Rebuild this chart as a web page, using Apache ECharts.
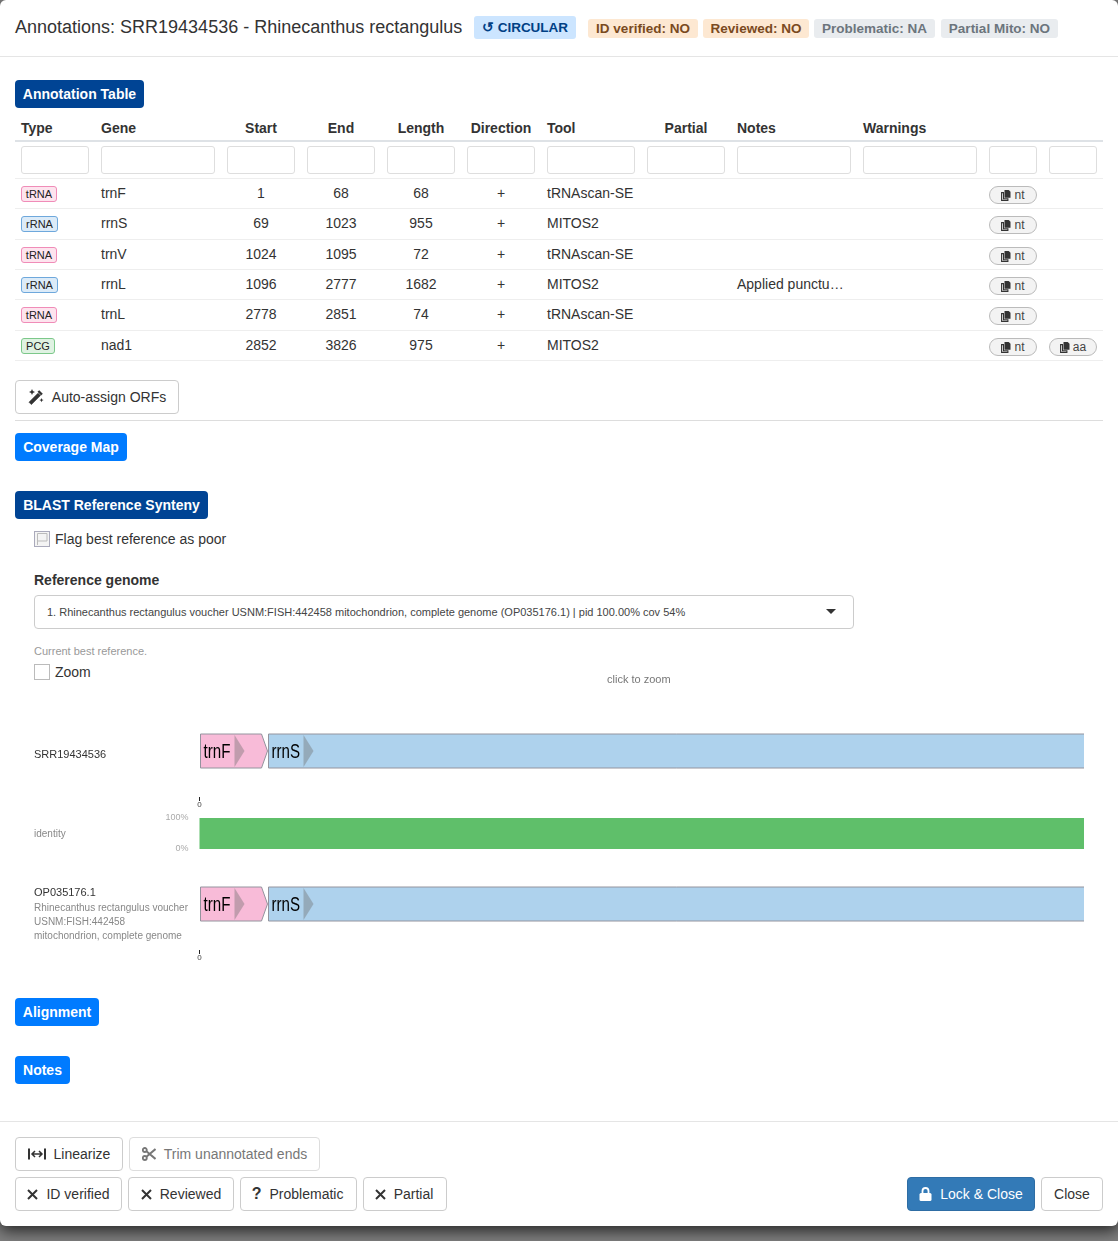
<!DOCTYPE html>
<html><head><meta charset="utf-8">
<script src="https://cdn.jsdelivr.net/npm/echarts@6/dist/echarts.min.js"></script>
<style>
html,body{margin:0;padding:0;width:1118px;height:1241px;overflow:hidden;background:#7f7f7f;font-family:"Liberation Sans",Arial,sans-serif;color:#333}
#modal{position:absolute;left:0;top:0;width:1118px;height:1226px;background:#fff;border-radius:6px;box-shadow:0 5px 15px rgba(0,0,0,.7)}
#chart{position:absolute;left:0;top:0;width:1118px;height:1241px;pointer-events:none}
.a{position:absolute;white-space:nowrap;box-sizing:border-box}
.btn{display:flex;align-items:center;justify-content:center;gap:8px;font-size:14px;color:#333;background:#fff;border:1px solid #ccc;border-radius:4px}
.sec{display:flex;align-items:center;justify-content:center;font-size:14px;font-weight:700;color:#fff;border-radius:4px}
.bd{display:flex;align-items:center;justify-content:center;font-size:13.5px;font-weight:700;border-radius:3px}
.inp{background:#fff;border:1px solid #dedede;border-radius:3px}
.pill{display:flex;align-items:center;justify-content:center;gap:3px;font-size:12px;color:#444;background:#f3f3f3;border:1px solid #bbb;border-radius:10px}
.tb{display:flex;align-items:center;justify-content:center;font-size:11px;color:#222;border-radius:3px;border:1px solid}
svg{display:block}
</style></head><body>
<div id="modal"></div><div id="chart"></div>
<script>
// ---- table data ----
const types = ['tRNA','rRNA','tRNA','rRNA','tRNA','PCG'];
const genes = ['trnF','rrnS','trnV','rrnL','trnL','nad1'];
const starts = [1,69,1024,1096,2778,2852];
const ends = [68,1023,1095,2777,2851,3826];
const lengths = [68,955,72,1682,74,975];
const directions = ['+','+','+','+','+','+'];
const tools = ['tRNAscan-SE','MITOS2','tRNAscan-SE','MITOS2','tRNAscan-SE','MITOS2'];
const notes = ['','','','Applied punctu…','',''];
const aaFlags = [false,false,false,false,false,true];
const columns = ['Type','Gene','Start','End','Length','Direction','Tool','Partial','Notes','Warnings','',''];
// ---- synteny chart data ----
const trackGenes = ['trnF','rrnS'];
const trackStarts = [1,69];
const trackEnds = [68,1023];
const trackKinds = ['tRNA','rRNA'];
const identityPositions = [0,884.5];
const identityValues = [100,100];
const rulerTicks = [0];
const windowEnd = 884.5;

const $m = document.getElementById('modal');
function el(cls,x,y,w,h,html,css){const d=document.createElement('div');d.className='a '+cls;
  d.style.cssText=`left:${x}px;top:${y}px;`+(w!=null?`width:${w}px;`:'')+(h!=null?`height:${h}px;`:'')+(css||'');
  if(html!=null)d.innerHTML=html;$m.appendChild(d);return d;}
function txt(x,cy,s,size,css){return el('',x,cy-10,null,20,s,`line-height:20px;font-size:${size}px;`+(css||''));}
function ctr(x,w,cy,s,size,css){return el('',x,cy-10,w,20,s,`line-height:20px;text-align:center;font-size:${size}px;`+(css||''));}
const ic = {
 copy:'<svg width="10" height="11" viewBox="0 0 10 11"><path d="M3.5 0h4.2L9.5 1.8V7.8H3.5z" fill="#333"/><path d="M.6 2.6h1.9v6.2h4.4v1.6H.6z" fill="none" stroke="#333" stroke-width="1.1"/></svg>',
 x:'<svg width="11" height="11" viewBox="0 0 11 11"><path d="M1 1l9 9M10 1l-9 9" stroke="#333" stroke-width="2"/></svg>',
 q:'<span style="font-weight:700;font-size:16px;line-height:14px;width:10px;text-align:center">?</span>',
 wand:'<svg width="16" height="16" viewBox="0 0 16 16"><path d="M1 13.2L10 4.2l2.4 2.4-9 9z" fill="#333" stroke="#333" stroke-width=".6"/><path d="M11.2 1.2l3.6 3.6-1.7 1.6-3.6-3.6z" fill="#333"/><path d="M4 0l.9 2.1L7 3l-2.1.9L4 6l-.9-2.1L1 3l2.1-.9zM13.5 9l.6 1.5 1.5.6-1.5.6-.6 1.5-.6-1.5-1.5-.6 1.5-.6z" fill="#333"/></svg>',
 link:'<svg width="18" height="12" viewBox="0 0 18 12"><path d="M1 .5v11M17 .5v11" stroke="#333" stroke-width="2"/><path d="M4 6h10M7 3L4 6l3 3M11 3l3 3-3 3" stroke="#333" stroke-width="1.5" fill="none"/></svg>',
 sc:'<svg width="14" height="14" viewBox="0 0 14 14"><circle cx="2.8" cy="3" r="2" fill="none" stroke="#777" stroke-width="1.8"/><circle cx="2.8" cy="11" r="2" fill="none" stroke="#777" stroke-width="1.8"/><path d="M4.4 4.2L13.5 12M4.4 9.8L13.5 2" stroke="#777" stroke-width="2"/></svg>',
 lock:'<svg width="13" height="14" viewBox="0 0 13 14"><path d="M3.5 6V4a3 3 0 016 0v2" fill="none" stroke="#fff" stroke-width="1.8"/><rect x="0.5" y="6" width="12" height="8" rx="1.5" fill="#fff"/></svg>'
};
// header
txt(15,27,'Annotations: SRR19434536 - Rhinecanthus rectangulus',18,'color:#333');
el('bd',474,16,102,23,'↺ CIRCULAR','background:#cce5ff;color:#004085;padding-bottom:1px;');
[[588,110,'ID verified: NO',1],[703,106,'Reviewed: NO',1],[814,121,'Problematic: NA',0],[941,117,'Partial Mito: NO',0]].forEach(b=>
  el('bd',b[0],19,b[1],19,b[2],b[3]?'background:#fde8d2;color:#7a4a1e;':'background:#e9ecef;color:#6c757d;'));
el('',0,56,1118,1,'','background:#e5e5e5');
el('sec',15,80,129,28,'Annotation Table','background:#004494');
// table
const colX=[21,101,227,307,387,467,547,647,737,863,989,1049];
const colW=[68,114,68,68,68,68,88,78,114,114,48,48];
const centered=[0,0,1,1,1,1,0,1,0,0,0,0];
columns.forEach((c,i)=>{ if(!c)return;
  centered[i]?ctr(colX[i],colW[i],128,c,14,'font-weight:700'):txt(colX[i],128,c,14,'font-weight:700');});
el('',15,140,1088,2,'','background:#dee2e6');
colX.forEach((x,i)=>el('inp',x,146,colW[i],28));
el('',15,178,1088,1,'','background:#eee');
const rowC=[193,223,254,284,314,345], rowL=[208,239,269,299,330,360];
const typeCss={tRNA:'background:#fde4ee;border-color:#f08cb8;',rRNA:'background:#dcebf8;border-color:#6ea8dc;',PCG:'background:#dff2e2;border-color:#7cc88a;'};
const typeW={tRNA:36,rRNA:37,PCG:34};
genes.forEach((g,i)=>{const c=rowC[i];
  el('tb',21,c-7,typeW[types[i]],16,types[i],typeCss[types[i]]);
  txt(101,c,g,14); ctr(227,68,c,starts[i],14); ctr(307,68,c,ends[i],14); ctr(387,68,c,lengths[i],14);
  ctr(467,68,c,directions[i],14); txt(547,c,tools[i],14); if(notes[i])txt(737,c,notes[i],14);
  el('pill',989,c-7,48,18,ic.copy+'nt');
  if(aaFlags[i])el('pill',1049,c-7,48,18,ic.copy+'aa');
  el('',15,rowL[i],1088,1,'','background:#eee');
});
el('btn',15,380,164,34,ic.wand+'Auto-assign ORFs');
el('',15,420,1088,1,'','background:#ddd');
el('sec',15,433,112,28,'Coverage Map','background:#007bff');
el('sec',15,491,193,28,'BLAST Reference Synteny','background:#004494');
el('',34,531,16,16,'<svg width="14" height="14" viewBox="0 0 14 14"><path d="M2.5 13V1.5h9.5v7.5H2.5" fill="none" stroke="#bbb"/></svg>','border:1px solid #aab;background:#f4f4f4');
txt(55,539,'Flag best reference as poor',14);
txt(34,580,'Reference genome',14,'font-weight:700');
el('',34,595,820,34,'','border:1px solid #ccc;border-radius:4px;background:#fff');
txt(47,612,'1. Rhinecanthus rectangulus voucher USNM:FISH:442458 mitochondrion, complete genome (OP035176.1) | pid 100.00% cov 54%',11,'color:#444');
el('',826,609,0,0,'','border-left:5px solid transparent;border-right:5px solid transparent;border-top:5px solid #333');
txt(34,651,'Current best reference.',11,'color:#999');
el('',34,664,16,16,'','border:1px solid #bbb;background:#fff');
txt(55,672,'Zoom',14);
el('sec',15,998,84,28,'Alignment','background:#007bff');
el('sec',15,1056,55,28,'Notes','background:#007bff');
el('',0,1121,1118,1,'','background:#e5e5e5');
el('btn',15,1137,108,34,ic.link+'Linearize');
el('btn',129,1137,191,34,ic.sc+'Trim unannotated ends','color:#777;border-color:#ddd');
el('btn',15,1177,107,34,ic.x+'ID verified');
el('btn',128,1177,106,34,ic.x+'Reviewed');
el('btn',240,1177,117,34,ic.q+'Problematic','padding-right:2px');
el('btn',363,1177,84,34,ic.x+'Partial','padding-right:2px');
el('btn',907,1177,128,34,ic.lock+'Lock &amp; Close','background:#337ab7;border-color:#2e6da4;color:#fff');
el('btn',1041,1177,62,34,'Close');

// ---- ECharts synteny ----
const kindFill={tRNA:'#f8bbd8',rRNA:'#aed2ed'};
const BOT=1,TOP=35,TIP=6,MARKW=10;
const markOffsets=[34,35];
function renderGene(p,api){
  const s=api.value(0),e=api.value(1),i=api.value(2);
  const a=api.coord([s,BOT]),b=api.coord([e,TOP]);
  const x0=a[0],x1=b[0],yb=a[1],yt=b[1],ym=(yb+yt)/2;
  const shaft=x1-api.size([TIP,0])[0];
  const m0=api.coord([s+markOffsets[i],BOT])[0], m1=api.coord([s+markOffsets[i]+MARKW,BOT])[0];
  const cs=p.coordSys;
  return {type:'group',clipPath:{type:'rect',shape:{x:cs.x,y:cs.y,width:cs.width,height:cs.height}},children:[
    {type:'polygon',shape:{points:[[x0,yt],[shaft,yt],[x1,ym],[shaft,yb],[x0,yb]]},
     style:{fill:kindFill[trackKinds[i]],stroke:'#94949e',lineWidth:1}},
    {type:'polygon',shape:{points:[[m0,yt+1],[m1,ym],[m0,yb-1]]},style:{fill:'rgba(110,110,110,0.4)'}},
    {type:'text',x:x0+3,y:ym+1,scaleX:0.72,style:{text:trackGenes[i],fill:'#000',font:'21px "Liberation Sans"',verticalAlign:'middle',align:'left'}}
  ]};
}
const geneData=trackStarts.map((s,i)=>[s,trackEnds[i],i]);
const L=199.5,W=884.5,gH=36;
const tops=[733,818,886];
const xBase={type:'value',min:0,max:windowEnd,axisLine:{show:false},splitLine:{show:false},axisTick:{show:false},axisLabel:{show:false}};
function rulerAxis(g){return Object.assign({},xBase,{gridIndex:g,position:'bottom',
  axisTick:{show:true,length:4,customValues:rulerTicks,lineStyle:{color:'#222'}},
  axisLabel:{show:true,customValues:rulerTicks,fontSize:8,margin:4,color:'#444',fontFamily:'Liberation Sans'}});}
const chart=echarts.init(document.getElementById('chart'),null,{renderer:'canvas',width:1118,height:1241});
function label(x,y,text,size,fill){return {type:'text',x:x,y:y,silent:true,style:{text:text,font:size+'px "Liberation Sans"',fill:fill,verticalAlign:'middle'}};}
const hiddenY=(g,max)=>({type:'value',gridIndex:g,min:0,max:max,show:false});
chart.setOption({animation:false,backgroundColor:'transparent',
 grid:[{left:L,top:tops[0],width:W,height:gH},{left:L,top:tops[1],width:W,height:31},{left:L,top:tops[2],width:W,height:gH},
       {left:L,top:796,width:W,height:1},{left:L,top:949,width:W,height:1}],
 xAxis:[Object.assign({},xBase,{gridIndex:0}),Object.assign({},xBase,{gridIndex:1}),Object.assign({},xBase,{gridIndex:2}),rulerAxis(3),rulerAxis(4)],
 yAxis:[
  hiddenY(0,gH),
  {type:'value',gridIndex:1,min:0,max:100,interval:100,axisLine:{show:false},axisTick:{show:false},splitLine:{show:false},
   axisLabel:{fontSize:9,color:'#aaa',margin:11,formatter:'{value}%',fontFamily:'Liberation Sans'}},
  hiddenY(2,gH),hiddenY(3,1),hiddenY(4,1)],
 series:[
  {type:'custom',xAxisIndex:0,yAxisIndex:0,renderItem:renderGene,data:geneData,silent:true},
  {type:'line',xAxisIndex:1,yAxisIndex:1,symbol:'none',lineStyle:{width:0},areaStyle:{color:'#5fbf6a',opacity:1},
   data:identityPositions.map((x,i)=>[x,identityValues[i]]),silent:true},
  {type:'custom',xAxisIndex:2,yAxisIndex:2,renderItem:renderGene,data:geneData,silent:true}],
 graphic:[
  label(607,680,'click to zoom',11,'#777'),
  label(34,755,'SRR19434536',11,'#333'),
  label(34,834,'identity',10,'#888'),
  label(34,893,'OP035176.1',11,'#333'),
  label(34,908,'Rhinecanthus rectangulus voucher',10,'#888'),
  label(34,922,'USNM:FISH:442458',10,'#888'),
  label(34,936,'mitochondrion, complete genome',10,'#888')]
});
</script></body></html>
